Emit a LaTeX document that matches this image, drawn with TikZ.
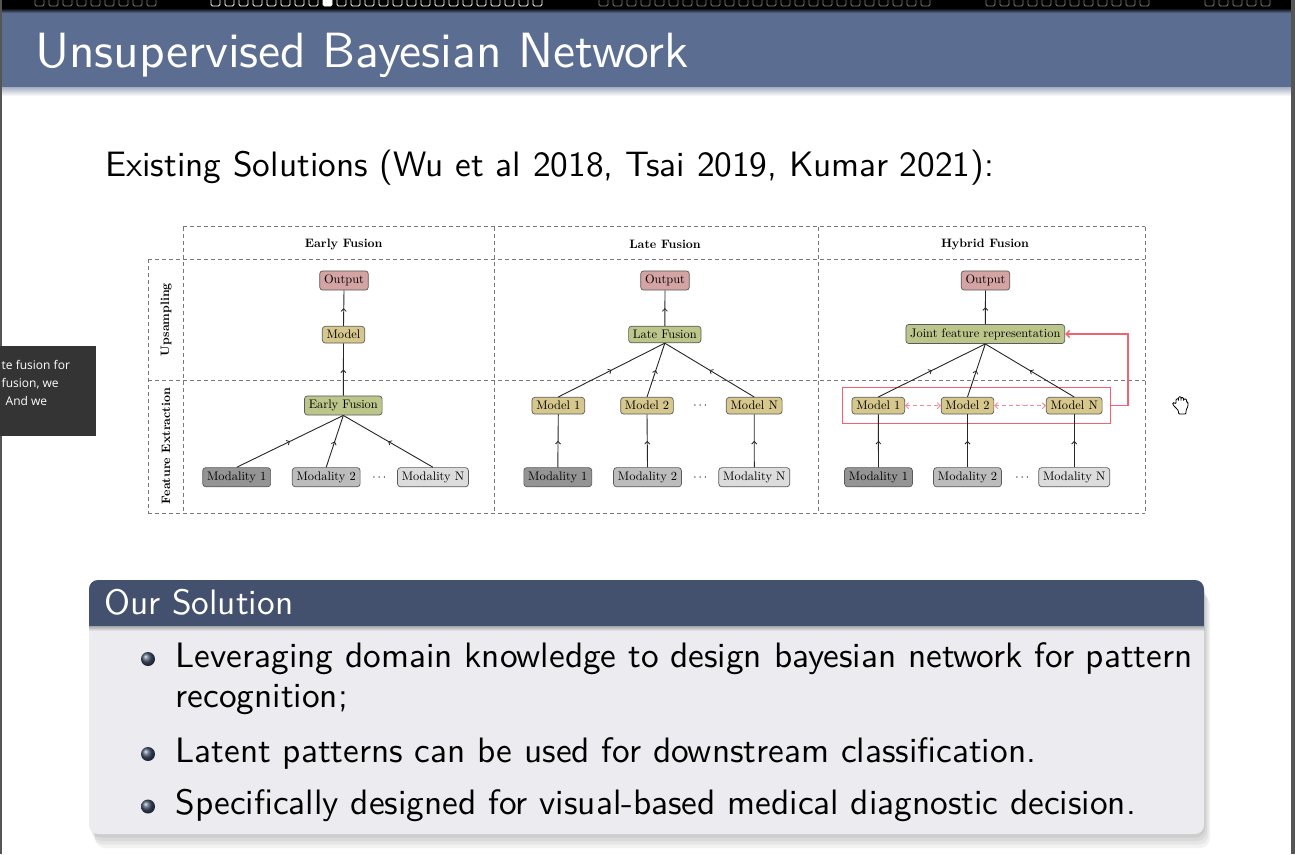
\documentclass[tikz,border=0pt]{standalone}
\usepackage{fontspec}
\newfontfamily\tipfont{Open Sans}
\newfontfamily\slidefont{lmsans10-regular.otf}
\newfontfamily\figfont{lmroman10-regular.otf}[BoldFont=lmroman10-bold.otf]
\usetikzlibrary{decorations.markings,arrows.meta}

% slide colours
\definecolor{band}{RGB}{91,110,145}
\definecolor{blockhead}{RGB}{67,81,110}
\definecolor{blockbody}{RGB}{236,236,240}
\definecolor{frameedge}{RGB}{85,85,85}
\definecolor{tipbg}{RGB}{52,52,52}
\definecolor{navgray}{RGB}{125,125,125}
% figure colours
\definecolor{outfill}{RGB}{212,163,163}
\definecolor{modfill}{RGB}{214,199,140}
\definecolor{fusefill}{RGB}{189,198,138}
\definecolor{modone}{RGB}{148,148,148}
\definecolor{modtwo}{RGB}{188,188,188}
\definecolor{modthree}{RGB}{220,220,220}
\definecolor{boxedge}{RGB}{90,90,90}
\definecolor{gridgray}{RGB}{120,120,120}
\definecolor{hyred}{RGB}{242,98,112}
\definecolor{hypink}{RGB}{242,140,152}

\tikzset{
  fignode/.style={draw=boxedge, rounded corners=3pt, inner xsep=4.3pt, inner ysep=4pt,
    line width=0.7pt, font=\figfont\fontsize{12.4}{14}\selectfont},
  outbox/.style={fignode, fill=outfill},
  modelbox/.style={fignode, fill=modfill},
  fusebox/.style={fignode, fill=fusefill},
  modA/.style={fignode, fill=modone},
  modB/.style={fignode, fill=modtwo},
  modC/.style={fignode, fill=modthree},
  dotsnode/.style={inner sep=0pt, font=\figfont\fontsize{12.4}{14}\selectfont},
  gridline/.style={draw=gridgray, line width=0.7pt, dash pattern=on 4pt off 3pt},
  colhead/.style={font=\figfont\bfseries\fontsize{12.2}{14}\selectfont},
  rowhead/.style={font=\figfont\bfseries\fontsize{12.2}{14}\selectfont, rotate=90},
  flow/.style={line width=0.9pt, draw=black!85, postaction={decorate},
    decoration={markings, mark=at position 0.5 with {\arrow{Straight Barb[length=2.6pt,width=5pt,line width=0.8pt]}}}},
  shareline/.style={draw=hypink, dash pattern=on 4pt off 3pt, line width=0.9pt,
    {Straight Barb[length=3pt,width=6pt]}-{Straight Barb[length=3pt,width=6pt]}},
  feedback/.style={draw=hyred, line width=1.4pt},
  slidetext/.style={anchor=base west, inner sep=0pt, font=\slidefont\fontsize{35.3}{42}\selectfont},
  navbox/.style={line width=0.8pt, rounded corners=1.5pt},
  tiptext/.style={anchor=base west, inner sep=0pt, text=white, font=\tipfont\fontsize{12}{14}\selectfont},
}

\begin{document}
\begin{tikzpicture}[x=1pt,y=-1pt]
\useasboundingbox (0,0) rectangle (1295,854);
\fill[white] (0,0) rectangle (1295,854);

% ---------- navigation strip and title band ----------
\fill[black] (0,0) rectangle (1295,8);
\shade[top color=black, bottom color=band] (0,8) rectangle (1295,13);
\fill[band] (0,13) rectangle (1295,87);
\shade[top color=band!55!white, bottom color=white] (0,87) rectangle (1295,96);

\foreach \i in {0,...,8}  \draw[navbox, navgray] ({35+14*\i},-5) rectangle ++(9,11);
\foreach \i in {0,...,23} \draw[navbox, white]   ({211+14*\i},-5) rectangle ++(9,11);
\fill[white, rounded corners=1.5pt] (323,-5) rectangle ++(9,11);
\foreach \i in {0,...,23} \draw[navbox, navgray] ({599+14*\i},-5) rectangle ++(9,11);
\foreach \i in {0,...,11} \draw[navbox, navgray] ({986+14*\i},-5) rectangle ++(9,11);
\foreach \i in {0,...,4}  \draw[navbox, navgray] ({1205+14*\i},-5) rectangle ++(9,11);

\node[anchor=base west, inner sep=0pt, text=white, font=\slidefont\fontsize{49.5}{56}\selectfont]
  (title) at (35,67) {Unsupervised Bayesian Network};

\node[slidetext] (intro) at (105,176.5) {Existing Solutions (Wu et al 2018, Tsai 2019, Kumar 2021):};

% ---------- fusion figure: dashed grid ----------
\draw[gridline] (183.3,226.7) -- (1145,226.7);
\draw[gridline] (148,259) -- (1145,259);
\draw[gridline] (148,380.3) -- (1145,380.3);
\draw[gridline] (148,513.3) -- (1145,513.3);
\draw[gridline] (148,259) -- (148,513.3);
\foreach \x in {183.3,494,818.3,1145} \draw[gridline] (\x,226.7) -- (\x,513.3);

\node[colhead] (hEarly)  at (343.7,244) {Early Fusion};
\node[colhead] (hLate)   at (665,244)   {Late Fusion};
\node[colhead] (hHybrid) at (985,244)   {Hybrid Fusion};
\node[rowhead] (rUp)   at (166,319.5) {Upsampling};
\node[rowhead] (rFeat) at (166,446)   {Feature Extraction};

% ---------- early fusion ----------
\node[outbox]   (eOut)   at (344,280.5)   {Output};
\node[modelbox] (eModel) at (343.5,334.7) {Model};
\node[fusebox]  (eFuse)  at (343.3,405.5) {Early Fusion};
\node[modA] (eM1) at (236.7,477.2) {Modality 1};
\node[modB] (eM2) at (326.2,477.2) {Modality 2};
\node[dotsnode] (eDots) at (379.3,477.5) {$\cdots$};
\node[modC] (eMN) at (433,477.2) {Modality N};
\draw[flow] (eM1.north) -- (eFuse.south);
\draw[flow] (eM2.north) -- (eFuse.south);
\draw[flow] (eMN.north) -- (eFuse.south);
\draw[flow] (eFuse.north) -- (eModel.south);
\draw[flow] (eModel.north) -- (eOut.south);

% ---------- late fusion ----------
\node[outbox]  (lOut)  at (665,280.5)   {Output};
\node[fusebox] (lFuse) at (664.8,334.5) {Late Fusion};
\node[modelbox] (lMo1) at (558.3,405.7) {Model 1};
\node[modelbox] (lMo2) at (647,405.7)   {Model 2};
\node[dotsnode] (lDotsA) at (700.3,405.7) {$\cdots$};
\node[modelbox] (lMoN) at (754.2,405.7) {Model N};
\node[modA] (lM1) at (557.8,477.2) {Modality 1};
\node[modB] (lM2) at (647.5,477.2) {Modality 2};
\node[dotsnode] (lDotsB) at (700.3,477.5) {$\cdots$};
\node[modC] (lMN) at (754.3,477.2) {Modality N};
\draw[flow] (lM1.north) -- (lMo1.south);
\draw[flow] (lM2.north) -- (lMo2.south);
\draw[flow] (lMN.north) -- (lMoN.south);
\draw[flow] (lMo1.north) -- (lFuse.south);
\draw[flow] (lMo2.north) -- (lFuse.south);
\draw[flow] (lMoN.north) -- (lFuse.south);
\draw[flow] (lFuse.north) -- (lOut.south);

% ---------- hybrid fusion ----------
\node[outbox]  (hOut)   at (985.5,280.5) {Output};
\node[fusebox] (hJoint) at (985.3,334)   {Joint feature representation};
\node[draw=hyred, line width=1.4pt, minimum width=268pt, minimum height=35.6pt, inner sep=0pt]
  (hGroup) at (976.7,405.5) {};
\node[modelbox] (hMo1) at (878.3,405.7) {Model 1};
\node[modelbox] (hMo2) at (967.5,405.7) {Model 2};
\node[modelbox] (hMoN) at (1074.2,405.7) {Model N};
\node[dotsnode, text=hypink] (hDotsA) at (1022.3,405.7) {$\cdots$};
\node[modA] (hM1) at (878.5,477.2) {Modality 1};
\node[modB] (hM2) at (967.5,477.2) {Modality 2};
\node[dotsnode] (hDotsB) at (1022.3,477.5) {$\cdots$};
\node[modC] (hMN) at (1074.2,477.2) {Modality N};
\draw[flow] (hM1.north) -- (hMo1.south);
\draw[flow] (hM2.north) -- (hMo2.south);
\draw[flow] (hMN.north) -- (hMoN.south);
\draw[flow] (hMo1.north) -- (hJoint.south);
\draw[flow] (hMo2.north) -- (hJoint.south);
\draw[flow] (hMoN.north) -- (hJoint.south);
\draw[flow] (hJoint.north) -- (hOut.south);
\draw[shareline] (hMo1.east) -- (hMo2.west);
\draw[shareline] (hMo2.east) -- (hMoN.west);
\draw[feedback, -{Straight Barb[length=3.5pt,width=7pt]}] (hGroup.east) -- ++(16.6,0) |- (hJoint.east);

% ---------- "Our Solution" block ----------
\foreach \k/\o in {1/0.05,2/0.05,3/0.05,4/0.05}
  \fill[black, opacity=\o, rounded corners=10pt] ({89+1.5*\k},{583+3*\k}) rectangle ({1204+1.5*\k},{834+3.5*\k});
\fill[blockbody, rounded corners=9pt] (89,580) rectangle (1204,834);
\fill[blockhead, rounded corners=9pt] (89,580) rectangle (1204,640);
\fill[blockbody] (89,626) rectangle (1204,645);
\shade[top color=blockbody!70!black, bottom color=blockbody] (89,626) rectangle (1204,631);
\node[anchor=base west, inner sep=0pt, text=white, font=\slidefont\fontsize{35.3}{42}\selectfont]
  (solTitle) at (104,614) {Our Solution};

\shade[ball color=blockhead] (148,659) circle (7pt);
\shade[ball color=blockhead] (148,754) circle (7pt);
\shade[ball color=blockhead] (148,806.5) circle (7pt);
\node[slidetext] (item1)  at (175.5,667.5) {Leveraging domain knowledge to design bayesian network for pattern};
\node[slidetext] (item1b) at (175.5,707)   {recognition;};
\node[slidetext] (item2)  at (175.5,762.7) {Latent patterns can be used for downstream classification.};
\node[slidetext] (item3)  at (175.5,814.5) {Specifically designed for visual-based medical diagnostic decision.};

% ---------- window edges ----------
\fill[frameedge] (0,0) rectangle (2,854);
\fill[frameedge] (1291,0) rectangle (1295,854);

% ---------- hover tooltip ----------
\fill[tipbg] (0,346) rectangle (96,436);
\node[tiptext] (tip1) at (1.5,369) {te fusion for};
\node[tiptext] (tip2) at (1.5,387.5) {fusion, we};
\node[tiptext] (tip3) at (5.5,405.5) {And we};

% ---------- pointer (grab hand) ----------
\draw[line width=0.8pt, fill=white, rounded corners=1pt]
  (1177,409) -- (1173.5,405.5) -- (1172.5,403.5) -- (1174,402.5) -- (1176,404)
  -- (1176,399) -- (1178.5,398.5) -- (1178.5,401.5) -- (1178.5,397)
  -- (1181,396.5) -- (1181,401.5) -- (1181,397.5) -- (1183.5,397.5)
  -- (1183.5,401.5) -- (1183.5,399) -- (1186.5,399) -- (1186.5,402)
  -- (1188,402.5) -- (1188,406) -- (1186,410.5) -- (1186,414) -- (1178.5,414)
  -- (1178.5,411) -- cycle;
\end{tikzpicture}
\end{document}
